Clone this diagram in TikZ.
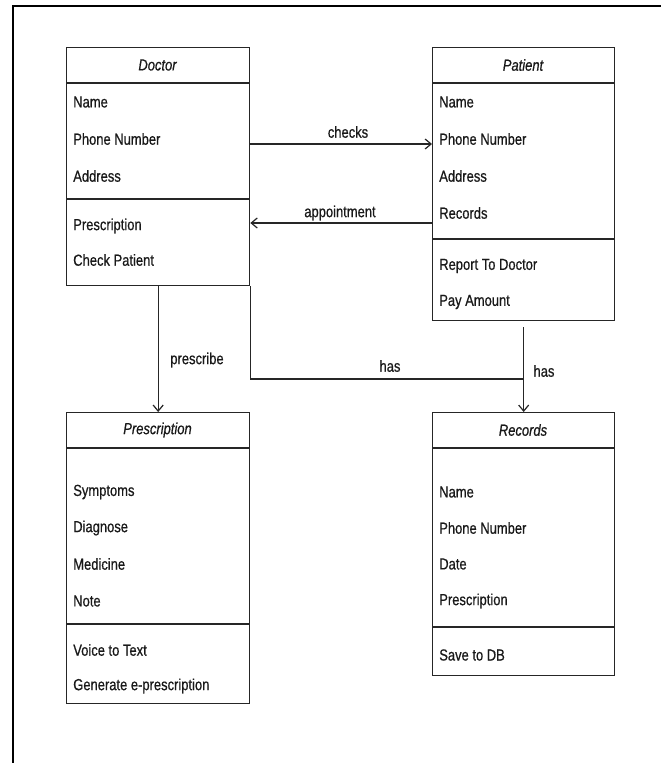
\documentclass[tikz,border=0pt]{standalone}
\usepackage{fontspec}
\setmainfont{Liberation Sans}[FakeStretch=0.81,FakeBold=0.6]
\usetikzlibrary{arrows.meta}
\tikzset{
  classbox/.style={draw=black!85, line width=1pt, anchor=north west, inner sep=0pt},
  divider/.style={draw=black!85, line width=1pt},
  attr/.style={anchor=west, inner sep=0pt, font=\fontsize{12pt}{14pt}\selectfont, text=black!90},
  title/.style={inner sep=0pt, font=\fontsize{12pt}{14pt}\selectfont\itshape, text=black!90},
  lbl/.style={inner sep=0pt, font=\fontsize{12pt}{14pt}\selectfont, text=black!90},
  conn/.style={draw=black!85, line width=0.9pt, -{Straight Barb[length=4.5pt,width=7.5pt]}},
  plain/.style={draw=black!85, line width=0.9pt}
}
\begin{document}
\begin{tikzpicture}[x=0.75pt,y=-0.75pt]
\useasboundingbox (0,0) rectangle (661,763);
\fill[white] (0,0) rectangle (661,763);
\draw[line width=1.5pt] (13,763) -- (13,6) -- (661,6);

% Doctor
\node[classbox, minimum width=137.25pt, minimum height=178.5pt] (doctor) at (66,47) {};
\node[title] (dt) at (157.5,65) {Doctor};
\draw[divider] (doctor.west |- 0,83) -- (doctor.east |- 0,83);
\node[attr] (d1) at (73,102) {Name};
\node[attr] (d2) at (73,139) {Phone Number};
\node[attr] (d3) at (73,176) {Address};
\draw[divider] (doctor.west |- 0,199) -- (doctor.east |- 0,199);
\node[attr] (d4) at (73,226) {Prescription};
\node[attr] (d5) at (73,260) {Check Patient};

% Patient
\node[classbox, minimum width=136.5pt, minimum height=204.75pt] (patient) at (432,47) {};
\node[title] (pt) at (523,65) {Patient};
\draw[divider] (patient.west |- 0,83) -- (patient.east |- 0,83);
\node[attr] (p1) at (439,102) {Name};
\node[attr] (p2) at (439,139) {Phone Number};
\node[attr] (p3) at (439,176) {Address};
\node[attr] (p4) at (439,213) {Records};
\draw[divider] (patient.west |- 0,239) -- (patient.east |- 0,239);
\node[attr] (p5) at (439,266) {Report To Doctor};
\node[attr] (p6) at (439,302) {Pay Amount};

% Prescription
\node[classbox, minimum width=137.25pt, minimum height=218.25pt] (presc) at (66,412) {};
\node[title] (rt) at (157.5,430) {Prescription};
\draw[divider] (presc.west |- 0,448) -- (presc.east |- 0,448);
\node[attr] (r1) at (73,492) {Symptoms};
\node[attr] (r2) at (73,528) {Diagnose};
\node[attr] (r3) at (73,564) {Medicine};
\node[attr] (r4) at (73,601) {Note};
\draw[divider] (presc.west |- 0,624) -- (presc.east |- 0,624);
\node[attr] (r5) at (73,650) {Voice to Text};
\node[attr] (r6) at (73,686) {Generate e-prescription};

% Records
\node[classbox, minimum width=136.5pt, minimum height=197.25pt] (records) at (432,412) {};
\node[title] (st) at (523,430) {Records};
\draw[divider] (records.west |- 0,448) -- (records.east |- 0,448);
\node[attr] (s1) at (439,492) {Name};
\node[attr] (s2) at (439,528) {Phone Number};
\node[attr] (s3) at (439,564) {Date};
\node[attr] (s4) at (439,601) {Prescription};
\draw[divider] (records.west |- 0,627) -- (records.east |- 0,627);
\node[attr] (s5) at (439,655) {Save to DB};

% Connectors
\draw[conn] (doctor.east |- 0,144) -- (patient.west |- 0,144);
\node[lbl] (lchecks) at (348,132) {checks};
\draw[conn] (patient.west |- 0,223) -- (doctor.east |- 0,223);
\node[lbl] (lappt) at (340,213) {appointment};
\draw[conn] (doctor.south) -- (presc.north);
\node[lbl] (lpresc) at (197,360) {prescribe};
\draw[plain] (doctor.south east) -- (doctor.south east |- 0,379) -- (records.north |- 0,379);
\node[lbl] (lhas1) at (390,366) {has};
\draw[conn] ([yshift=-4.5pt]patient.south) -- (records.north);
\node[lbl] (lhas2) at (544,371) {has};
\end{tikzpicture}
\end{document}
